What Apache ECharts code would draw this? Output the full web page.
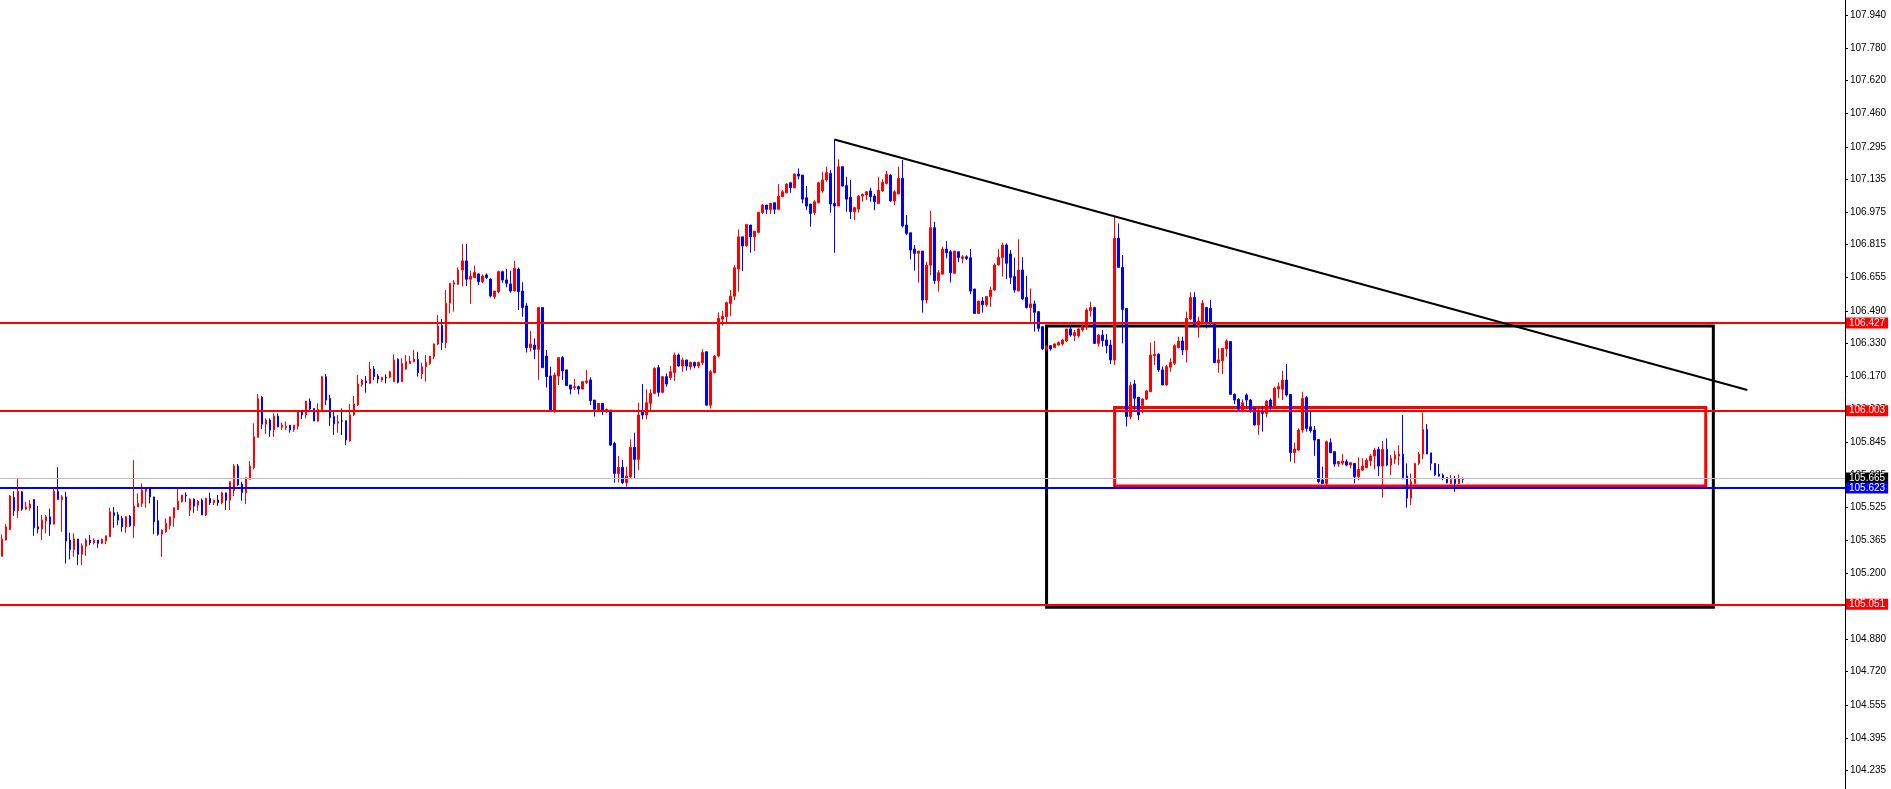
<!DOCTYPE html>
<html>
<head>
<meta charset="utf-8">
<script src="https://cdn.jsdelivr.net/npm/echarts@6/dist/echarts.min.js"></script>
<style>
html,body{margin:0;padding:0;background:#fff;}
#chart{width:1891px;height:789px;}
</style>
</head>
<body>
<div id="chart"></div>
<script>
// ---- data ----
// each candle: [open, close, low, high]
const candles = [
[105.286,105.370,105.283,105.393],[105.365,105.430,105.363,105.443],[105.417,105.581,105.414,105.586],[105.574,105.509,105.484,105.605],
[105.509,105.605,105.474,105.664],[105.602,105.517,105.509,105.605],[105.517,105.528,105.512,105.553],[105.522,105.542,105.509,105.561],
[105.564,105.425,105.386,105.564],[105.430,105.420,105.398,105.532],[105.419,105.463,105.365,105.489],[105.460,105.479,105.398,105.488],
[105.479,105.443,105.386,105.520],[105.443,105.605,105.443,105.618],[105.605,105.564,105.564,105.723],[105.564,105.577,105.406,105.586],
[105.577,105.360,105.250,105.602],[105.365,105.319,105.270,105.401],[105.319,105.371,105.283,105.398],[105.370,105.295,105.242,105.370],
[105.296,105.337,105.242,105.349],[105.335,105.365,105.288,105.373],[105.365,105.352,105.340,105.389],[105.352,105.365,105.344,105.373],
[105.365,105.349,105.327,105.365],[105.349,105.368,105.345,105.373],[105.360,105.386,105.345,105.386],[105.381,105.504,105.381,105.524],
[105.499,105.486,105.425,105.527],[105.489,105.463,105.438,105.504],[105.471,105.430,105.406,105.483],[105.430,105.479,105.401,105.483],
[105.483,105.435,105.430,105.488],[105.435,105.532,105.376,105.757],[105.528,105.545,105.528,105.594],[105.545,105.610,105.528,105.643],
[105.605,105.618,105.524,105.622],[105.618,105.577,105.545,105.618],[105.577,105.455,105.394,105.577],[105.460,105.394,105.386,105.561],
[105.394,105.414,105.283,105.417],[105.406,105.447,105.401,105.471],[105.437,105.479,105.419,105.479],[105.474,105.524,105.430,105.524],
[105.515,105.556,105.512,105.618],[105.553,105.586,105.550,105.586],[105.586,105.582,105.553,105.599],[105.512,105.566,105.483,105.569],
[105.566,105.532,105.499,105.569],[105.537,105.556,105.509,105.561],[105.561,105.488,105.488,105.569],[105.488,105.569,105.483,105.573],
[105.569,105.548,105.537,105.597],[105.548,105.561,105.537,105.561],[105.561,105.548,105.533,105.586],[105.548,105.597,105.540,105.602],
[105.597,105.561,105.512,105.597],[105.561,105.651,105.512,105.651],[105.607,105.728,105.581,105.738],[105.728,105.635,105.631,105.738],
[105.640,105.599,105.558,105.651],[105.597,105.671,105.542,105.671],[105.663,105.728,105.663,105.753],[105.721,105.872,105.712,105.937],
[105.869,106.060,105.869,106.081],[106.065,105.934,105.910,106.071],[105.934,105.954,105.885,105.962],[105.954,105.905,105.872,105.962],
[105.905,105.973,105.872,105.986],[105.973,105.921,105.918,105.986],[105.918,105.929,105.905,105.941],[105.918,105.924,105.905,105.946],
[105.929,105.905,105.892,105.929],[105.908,105.929,105.896,105.929],[105.924,105.995,105.908,106.003],[105.995,105.979,105.959,106.003],
[105.979,106.047,105.962,106.047],[106.047,106.008,105.998,106.060],[106.011,105.949,105.949,106.011],[105.949,106.006,105.946,106.036],
[106.006,106.167,106.003,106.170],[106.167,106.052,106.028,106.180],[106.060,105.966,105.925,106.077],[105.971,105.935,105.881,105.995],
[105.938,105.946,105.892,105.979],[105.949,105.949,105.881,106.011],[105.951,105.856,105.831,105.951],[105.851,105.979,105.848,106.033],
[105.979,106.033,105.974,106.072],[106.028,106.131,106.023,106.175],[106.129,106.150,106.118,106.155],[106.146,106.137,106.088,106.170],
[106.134,106.204,106.131,106.240],[106.204,106.167,106.150,106.219],[106.170,106.155,106.134,106.180],[106.150,106.164,106.142,106.164],
[106.162,106.162,106.134,106.178],[106.164,106.191,106.159,106.196],[106.142,106.249,106.142,106.276],[106.252,106.139,106.134,106.257],
[106.142,106.232,106.142,106.257],[106.204,106.240,106.200,106.273],[106.232,106.244,106.229,106.268],[106.240,106.252,106.237,106.298],
[106.252,106.186,106.167,106.289],[106.180,106.216,106.155,106.236],[106.216,106.236,106.142,106.273],[106.232,106.268,106.224,106.268],
[106.265,106.327,106.252,106.330],[106.327,106.415,106.322,106.469],[106.417,106.334,106.298,106.450],[106.334,106.527,106.306,106.592],
[106.527,106.625,106.478,106.625],[106.620,106.628,106.486,106.641],[106.620,106.690,106.617,106.703],[106.690,106.735,106.609,106.818],
[106.735,106.645,106.612,106.818],[106.645,106.658,106.524,106.687],[106.653,106.679,106.653,106.712],[106.671,106.633,106.617,106.674],
[106.633,106.661,106.625,106.669],[106.666,106.653,106.646,106.674],[106.646,106.563,106.555,106.649],[106.560,106.587,106.548,106.587],
[106.584,106.682,106.576,106.687],[106.682,106.641,106.628,106.687],[106.641,106.625,106.605,106.695],[106.622,106.587,106.579,106.687],
[106.587,106.699,106.587,106.735],[106.695,106.584,106.494,106.702],[106.587,106.506,106.461,106.630],[106.514,106.309,106.285,106.527],
[106.309,106.327,106.290,106.391],[106.322,106.301,106.254,106.355],[106.301,106.506,106.151,106.510],[106.506,106.211,106.211,106.506],
[106.268,106.167,106.113,106.298],[106.170,106.003,105.998,106.216],[106.000,106.175,105.990,106.187],[106.170,106.260,106.126,106.260],
[106.260,106.195,106.151,106.268],[106.200,106.123,106.123,106.200],[106.126,106.106,106.080,106.126],[106.113,106.118,106.101,106.155],
[106.118,106.106,106.080,106.123],[106.106,106.142,106.106,106.142],[106.139,106.146,106.131,106.200],[106.151,106.049,106.028,106.164],
[106.052,106.007,105.971,106.052],[106.003,106.036,105.995,106.036],[106.036,105.998,105.979,106.036],[105.998,106.006,105.987,106.011],
[106.003,105.831,105.826,106.003],[105.840,105.692,105.647,105.848],[105.692,105.722,105.647,105.777],[105.722,105.647,105.640,105.758],
[105.647,105.679,105.627,105.725],[105.676,105.820,105.668,105.859],[105.820,105.761,105.668,105.892],[105.761,105.979,105.709,106.039],
[105.995,105.979,105.957,106.131],[105.979,106.039,105.957,106.105],[106.036,106.085,106.000,106.105],[106.085,106.208,106.082,106.213],
[106.211,106.090,106.069,106.224],[106.090,106.167,106.085,106.167],[106.167,106.131,106.118,106.183],[106.162,106.191,106.151,106.219],
[106.187,106.273,106.146,106.285],[106.273,106.219,106.216,106.281],[106.219,106.249,106.191,106.260],[106.249,106.219,106.196,106.249],
[106.216,106.236,106.200,106.241],[106.236,106.219,106.208,106.241],[106.219,106.236,106.208,106.241],[106.235,106.286,106.224,106.301],
[106.289,106.027,106.027,106.292],[106.027,106.191,106.011,106.199],[106.186,106.268,106.183,106.273],[106.268,106.453,106.261,106.482],
[106.449,106.464,106.417,106.490],[106.461,106.530,106.431,106.535],[106.526,106.562,106.464,106.592],[106.562,106.701,106.543,106.714],
[106.695,106.853,106.584,106.889],[106.853,106.808,106.685,106.853],[106.809,106.914,106.804,106.914],[106.911,106.853,106.775,106.911],
[106.853,106.881,106.783,106.881],[106.875,106.973,106.870,106.976],[106.971,107.009,106.965,107.014],[107.009,106.988,106.965,107.009],
[106.988,107.017,106.965,107.020],[107.020,106.988,106.965,107.020],[106.988,107.053,106.984,107.112],[107.050,107.074,107.047,107.082],
[107.069,107.112,107.066,107.115],[107.118,107.094,107.069,107.123],[107.094,107.161,107.091,107.164],[107.161,107.151,107.135,107.189],
[107.156,107.038,107.017,107.156],[107.045,107.004,106.984,107.102],[107.014,106.968,106.903,107.014],[106.971,107.025,106.960,107.033],
[107.020,107.118,107.017,107.123],[107.078,107.132,107.069,107.172],[107.132,107.168,107.123,107.197],[107.164,107.014,106.971,107.181],
[107.017,107.004,106.775,107.331],[107.004,107.197,107.004,107.233],[107.197,107.102,107.099,107.200],[107.104,107.038,106.976,107.148],
[107.047,106.976,106.940,107.132],[106.976,106.996,106.935,107.001],[106.989,107.053,106.973,107.058],[107.053,107.061,107.025,107.066],
[107.058,107.074,107.033,107.078],[107.078,107.050,107.025,107.094],[107.053,107.025,106.984,107.063],[107.017,107.082,107.014,107.148],
[107.078,107.120,107.074,107.135],[107.115,107.159,107.110,107.176],[107.156,107.029,107.025,107.161],[107.029,107.074,107.009,107.082],
[107.063,107.140,107.063,107.197],[107.140,106.906,106.899,107.230],[106.911,106.870,106.862,106.960],[106.873,106.788,106.742,106.873],
[106.793,106.772,106.687,106.813],[106.772,106.783,106.628,106.783],[106.783,106.543,106.481,106.783],[106.543,106.714,106.526,106.731],
[106.714,106.898,106.665,106.981],[106.898,106.638,106.621,106.927],[106.638,106.677,106.584,106.690],[106.670,106.793,106.669,106.804],
[106.793,106.775,106.747,106.832],[106.780,106.677,106.629,106.788],[106.674,106.783,106.670,106.783],[106.780,106.752,106.728,106.780],
[106.747,106.755,106.723,106.763],[106.755,106.747,106.739,106.763],[106.750,106.587,106.572,106.793],[106.597,106.477,106.477,106.597],
[106.477,106.538,106.474,106.538],[106.538,106.520,106.481,106.557],[106.519,106.560,106.510,106.563],[106.560,106.592,106.510,106.609],
[106.592,106.715,106.589,106.723],[106.715,106.753,106.712,106.792],[106.751,106.813,106.658,106.825],[106.813,106.723,106.645,106.821],
[106.769,106.654,106.622,106.788],[106.658,106.592,106.579,106.751],[106.587,106.690,106.587,106.841],[106.690,106.548,106.543,106.753],
[106.556,106.506,106.502,106.661],[106.506,106.524,106.429,106.600],[106.524,106.483,106.388,106.540],[106.486,106.404,106.388,106.486],
[106.412,106.303,106.298,106.412],[106.303,106.314,106.295,106.322],[106.319,106.303,106.295,106.319],[106.309,106.327,106.309,106.331],
[106.322,106.334,106.319,106.339],[106.327,106.347,106.319,106.352],[106.342,106.401,106.336,106.401],[106.401,106.371,106.363,106.412],
[106.368,106.383,106.342,106.396],[106.367,106.401,106.358,106.412],[106.396,106.412,106.388,106.424],[106.412,106.494,106.396,106.502],
[106.491,106.506,106.461,106.535],[106.506,106.330,106.327,106.510],[106.330,106.371,106.314,106.376],[106.371,106.344,106.314,106.396],
[106.347,106.319,106.281,106.376],[106.322,106.249,106.229,106.347],[106.249,106.846,106.224,106.952],[106.846,106.703,106.703,106.919],
[106.703,106.497,106.330,106.764],[106.502,105.971,105.922,106.502],[105.971,106.123,105.958,106.142],[106.131,106.061,105.998,106.151],
[106.066,105.979,105.954,106.066],[106.025,106.057,105.987,106.061],[106.056,106.097,106.052,106.101],[106.093,106.273,106.093,106.334],
[106.270,106.277,106.224,106.342],[106.277,106.200,106.191,106.281],[106.200,106.126,106.126,106.216],[106.126,106.216,106.123,106.224],
[106.213,106.236,106.191,106.257],[106.232,106.319,106.224,106.326],[106.309,106.342,106.306,106.363],[106.342,106.298,106.273,106.363],
[106.298,106.453,106.236,106.486],[106.450,106.555,106.445,106.581],[106.555,106.412,106.409,106.581],[106.412,106.440,106.358,106.461],
[106.437,106.527,106.437,106.543],[106.506,106.429,106.404,106.510],[106.502,106.434,106.412,106.543],[106.425,106.236,106.232,106.425],
[106.236,106.249,106.186,106.306],[106.245,106.306,106.180,106.306],[106.303,106.342,106.265,106.350],[106.339,106.080,106.077,106.339],
[106.080,106.052,106.033,106.085],[106.056,106.007,106.003,106.061],[106.003,106.039,105.992,106.056],[106.077,106.052,106.020,106.085],
[106.052,106.003,105.990,106.057],[106.012,105.930,105.927,106.012],[105.930,105.995,105.881,106.012],[105.992,105.987,105.897,106.020],
[105.987,106.047,105.967,106.052],[106.052,106.020,106.003,106.061],[106.020,106.110,106.012,106.118],[106.106,106.118,106.061,106.139],
[106.105,106.150,106.052,106.195],[106.150,106.077,106.069,106.229],[106.080,105.794,105.750,106.080],[105.794,105.812,105.742,105.843],
[105.807,105.905,105.804,105.913],[105.905,106.060,105.892,106.093],[106.064,105.913,105.897,106.072],[105.921,105.902,105.892,106.003],
[105.905,105.856,105.778,105.925],[105.859,105.652,105.643,105.859],[105.660,105.643,105.643,105.725],[105.643,105.848,105.635,105.853],
[105.843,105.794,105.791,105.864],[105.799,105.738,105.725,105.799],[105.738,105.750,105.725,105.753],[105.742,105.753,105.733,105.787],
[105.750,105.733,105.728,105.761],[105.733,105.745,105.717,105.745],[105.741,105.676,105.643,105.741],[105.676,105.712,105.659,105.771],
[105.708,105.728,105.705,105.766],[105.721,105.757,105.717,105.766],[105.754,105.777,105.728,105.787],[105.777,105.807,105.712,105.818],
[105.810,105.728,105.679,105.823],[105.728,105.810,105.573,105.851],[105.810,105.733,105.728,105.864],[105.733,105.766,105.684,105.782],
[105.762,105.782,105.738,105.803],[105.777,105.787,105.733,105.831],[105.787,105.672,105.663,105.978],[105.679,105.571,105.524,105.741],
[105.571,105.651,105.537,105.692],[105.643,105.741,105.640,105.741],[105.741,105.787,105.733,105.798],[105.787,105.908,105.762,105.991],
[105.908,105.787,105.787,105.934],[105.793,105.741,105.708,105.793],[105.741,105.687,105.679,105.741],[105.689,105.679,105.676,105.738],
[105.684,105.667,105.659,105.692],[105.672,105.646,105.643,105.672],[105.643,105.663,105.640,105.684],[105.663,105.643,105.602,105.679],
[105.643,105.667,105.640,105.687],[105.667,105.663,105.646,105.672]
];

// total bar slots on the time axis (candles + empty space to the right)
const slotCount = 461;

// price-axis tick labels
const tickValues = [107.940,107.780,107.620,107.460,107.295,107.135,106.975,106.815,106.655,106.490,106.330,106.170,106.005,
                    105.845,105.685,105.525,105.365,105.200,105.040,104.880,104.720,104.555,104.395,104.235];
const priceMin = 104.1436;
const priceMax = 108.0151;

// horizontal levels
const redLevels = [106.427, 106.003, 105.051];
const blueLevel = 105.623;
const bidPrice = 105.665;

// drawn objects: [barIndex, price]
const trendLine = [[208, 107.331], [436.1, 106.101]];
const blackBox = [[261.0, 106.416], [427.6, 105.036]];
const redBox = [[278.0, 106.016], [425.7, 105.630]];

// ---- chart ----
const categories = [];
for (let i = 0; i < slotCount; i++) categories.push(String(i));

function levelLabel(value, bg) {
  const text = value.toFixed(3);
  return {
    show: true, position: 'end', distance: 1,
    formatter: () => text,
    color: '#ffffff', backgroundColor: bg,
    fontFamily: 'Liberation Sans, Arial, sans-serif', fontSize: 10, lineHeight: 10,
    padding: [1, 3, 0, 3]
  };
}

const levelData = [];
levelData.push({ yAxis: bidPrice, lineStyle: { color: '#c0c0c0', width: 1 }, label: levelLabel(bidPrice, '#000000') });
redLevels.forEach(v => levelData.push({ yAxis: v, lineStyle: { color: '#ff0000', width: 2 }, label: levelLabel(v, '#ff0000') }));
levelData.push({ yAxis: blueLevel, lineStyle: { color: '#0000ff', width: 2 }, label: levelLabel(blueLevel, '#0000ff') });

const chart = echarts.init(document.getElementById('chart'), null, { renderer: 'canvas' });
chart.setOption({
  animation: false,
  backgroundColor: '#ffffff',
  grid: { left: -0.7, right: 46, top: 0, bottom: 0, containLabel: false },
  xAxis: [
    { type: 'category', data: categories, show: false, boundaryGap: true },
    { type: 'value', min: -0.5, max: slotCount - 0.5, show: false }
  ],
  yAxis: {
    type: 'value', position: 'right', min: priceMin, max: priceMax,
    splitLine: { show: false },
    axisLine: { show: true, onZero: false, lineStyle: { color: '#000000', width: 1 } },
    axisTick: { show: true, length: 3, customValues: tickValues, lineStyle: { color: '#000000' } },
    axisLabel: {
      customValues: tickValues, formatter: v => Number(v).toFixed(3),
      color: '#000000', fontSize: 10, fontFamily: 'Liberation Sans, Arial, sans-serif', margin: 5
    }
  },
  series: [
    {
      type: 'candlestick',
      data: candles.map(c => [c[0], c[1], c[2], c[3]]),
      barWidth: 2,
      itemStyle: {
        color: '#ff0000', color0: '#0000ff',
        borderColor: '#ff0000', borderColor0: '#0000ff',
        borderColorDoji: '#000000', borderWidth: 1
      },
      markLine: {
        silent: true, symbol: ['none', 'none'], animation: false,
        lineStyle: { type: 'solid' },
        data: levelData
      }
    },
    {
      type: 'line', xAxisIndex: 1, data: [], silent: true,
      markArea: {
        silent: true, animation: false,
        label: { show: false },
        data: [
          [{ coord: blackBox[0], itemStyle: { color: 'rgba(0,0,0,0)', borderColor: '#000000', borderWidth: 3 } }, { coord: blackBox[1] }],
          [{ coord: redBox[0], itemStyle: { color: 'rgba(0,0,0,0)', borderColor: '#ff0000', borderWidth: 3 } }, { coord: redBox[1] }]
        ]
      },
      markLine: {
        silent: true, symbol: ['none', 'none'], animation: false,
        label: { show: false },
        lineStyle: { color: '#000000', width: 2, type: 'solid' },
        data: [[{ coord: trendLine[0] }, { coord: trendLine[1] }]]
      }
    }
  ]
});
</script>
</body>
</html>
